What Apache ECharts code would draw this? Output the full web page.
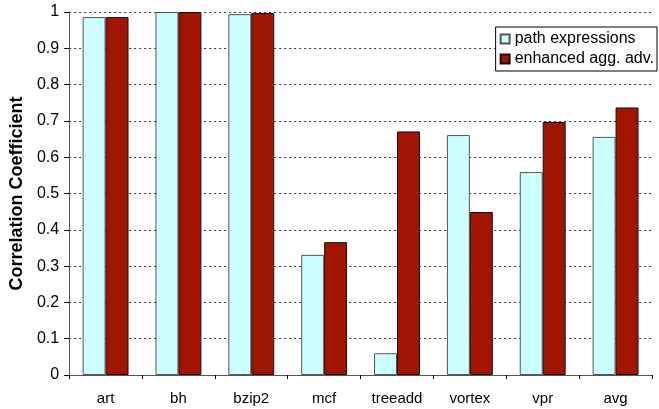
<!DOCTYPE html>
<html><head><meta charset="utf-8">
<script src="https://cdn.jsdelivr.net/npm/echarts@6/dist/echarts.min.js"></script>
<style>html,body{margin:0;padding:0;background:#fff}#c{width:659px;height:409px}</style>
</head><body><div id="c"></div>
<script>
var categories = ['art','bh','bzip2','mcf','treeadd','vortex','vpr','avg'];
var pathExpr = [0.986, 1.0, 0.994, 0.331, 0.06, 0.661, 0.559, 0.656];
var enhAgg = [0.986, 1.0, 0.997, 0.366, 0.671, 0.449, 0.697, 0.737];
var seriesNames = ['path expressions', 'enhanced agg. adv.'];
var font = 'Liberation Sans, Arial, sans-serif';
var chart = echarts.init(document.getElementById('c'));
chart.setOption({
  animation: false,
  textStyle: {fontFamily: font},
  grid: {left: 69, right: 7, top: 12, bottom: 34},
  legend: {
    right: 2, top: 27, orient: 'vertical',
    backgroundColor: '#fff', borderColor: '#000', borderWidth: 1,
    padding: [4, 3, 4, 4], itemGap: 4, itemWidth: 9, itemHeight: 9, icon: 'rect',
    textStyle: {fontFamily: font, fontSize: 16, color: '#000'},
    data: seriesNames
  },
  xAxis: {
    type: 'category', data: categories,
    axisLine: {lineStyle: {color: '#555', width: 1}},
    axisTick: {show: true, length: 4, lineStyle: {color: '#000'}},
    axisLabel: {fontFamily: font, fontSize: 15, color: '#000', margin: 16}
  },
  yAxis: {
    type: 'value', min: 0, max: 1, interval: 0.1,
    name: 'Correlation Coefficient', nameLocation: 'middle', nameGap: 43,
    nameTextStyle: {fontFamily: font, fontSize: 18, fontWeight: 'bold', color: '#000'},
    axisLine: {show: true, lineStyle: {color: '#555', width: 1}},
    axisTick: {show: true, inside: false, length: 5, lineStyle: {color: '#000'}},
    axisLabel: {fontFamily: font, fontSize: 16, color: '#000', margin: 10,
      formatter: function(v){ return String(Math.round(v*10)/10); }},
    splitLine: {show: true, lineStyle: {color: '#333', type: [2, 3], width: 1}}
  },
  series: [
    {name: seriesNames[0], type: 'bar', data: pathExpr, barGap: '0%', barCategoryGap: '37%',
     itemStyle: {color: '#CCFFFF', borderColor: '#555', borderWidth: 1}},
    {name: seriesNames[1], type: 'bar', data: enhAgg,
     itemStyle: {color: '#A11500', borderColor: '#111', borderWidth: 1}}
  ]
});
</script></body></html>
